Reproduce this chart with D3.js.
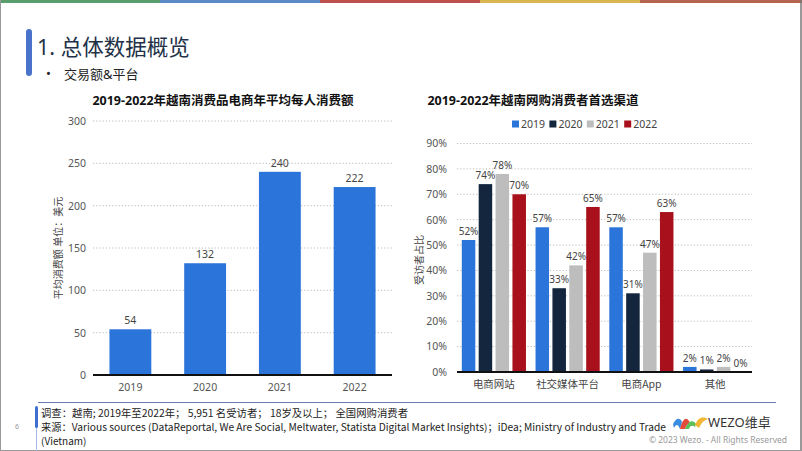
<!DOCTYPE html>
<html><head><meta charset="utf-8">
<script src="https://cdn.jsdelivr.net/npm/d3@7"></script>
<style>
html,body{margin:0;padding:0;background:#fff;}
svg{display:block;font-family:"Noto Sans","Noto Sans CJK SC",sans-serif;}
</style></head><body>
<svg id="c" width="802" height="451"></svg>
<script>
// ---------- data ----------
const years = ["2019","2020","2021","2022"];
const spendValues = [54,132,240,222];
const spendTicks = [0,50,100,150,200,250,300];

const channels = ["电商网站","社交媒体平台","电商App","其他"];
const series2019 = [52,57,57,2];
const series2020 = [74,33,31,1];
const series2021 = [78,42,47,2];
const series2022 = [70,65,63,0];
const pctTicks = [0,10,20,30,40,50,60,70,80,90];

const seriesColors = ["#2b74da","#13263d","#bdbdbd","#a8111b"];

const svg = d3.select("#c");

// ---------- frame ----------
const stripes = [["#5a9e6e",0,160],["#5b8ac6",160,320],["#c0504d",320,480],["#d9b64f",480,640],["#b5654e",640,802]];
svg.selectAll("rect.stripe").data(stripes).join("rect")
  .attr("x",d=>d[1]).attr("y",0).attr("width",d=>d[2]-d[1]).attr("height",3).attr("fill",d=>d[0]);
svg.append("line").attr("x1",801).attr("x2",801).attr("y1",0).attr("y2",451).attr("stroke","#777").attr("stroke-width",1.5);
svg.append("line").attr("x1",0.5).attr("x2",0.5).attr("y1",0).attr("y2",451).attr("stroke","#999").attr("stroke-width",1);
svg.append("line").attr("x1",0).attr("x2",802).attr("y1",450.5).attr("y2",450.5).attr("stroke","#999").attr("stroke-width",1);

// header
svg.append("rect").attr("x",26).attr("y",29).attr("width",6).attr("height",47).attr("rx",3).attr("fill","#4a74cc");
svg.append("text").attr("x",37).attr("y",55).attr("font-size",21.5).attr("fill","#223147").text("1. 总体数据概览");
svg.append("text").attr("x",46).attr("y",78).attr("font-size",13).attr("fill","#222").text("•");
svg.append("text").attr("x",64).attr("y",79).attr("font-size",13).attr("fill","#222").text("交易额&平台");

// ---------- left chart ----------
const L = {x0:93,x1:392,y0:375,y1:121};
const xL = d3.scaleBand().domain(years).range([L.x0,L.x1]).paddingInner(0.44).paddingOuter(0.22);
const yL = d3.scaleLinear().domain([0,300]).range([L.y0,L.y1]);
const gL = svg.append("g");
gL.append("text").attr("x",223).attr("y",105).attr("text-anchor","middle").attr("font-size",12.5).attr("font-weight","bold").attr("fill","#111")
  .text("2019-2022年越南消费品电商年平均每人消费额");
gL.selectAll("line.grid").data(spendTicks.filter(t=>t>0)).join("line")
  .attr("x1",L.x0).attr("x2",L.x1).attr("y1",d=>yL(d)).attr("y2",d=>yL(d))
  .attr("stroke","#bbb").attr("stroke-dasharray","1.2,2");
const axL = gL.append("g").attr("transform",`translate(${L.x0-7},0)`).call(d3.axisLeft(yL).tickValues(spendTicks).tickSize(0).tickPadding(0));
axL.select(".domain").remove();
axL.selectAll("text").attr("font-size",10.5).attr("fill","#555").attr("font-family","Noto Sans, sans-serif");
gL.selectAll("rect.bar").data(spendValues).join("rect")
  .attr("x",(d,i)=>xL(years[i])).attr("width",xL.bandwidth())
  .attr("y",d=>yL(d)).attr("height",d=>yL(0)-yL(d)).attr("fill","#2b74da");
gL.selectAll("text.val").data(spendValues).join("text")
  .attr("x",(d,i)=>xL(years[i])+xL.bandwidth()/2).attr("y",d=>yL(d)-5)
  .attr("text-anchor","middle").attr("font-size",10.5).attr("fill","#444").text(d=>d);
const bxL = gL.append("g").attr("transform",`translate(0,${L.y0})`).call(d3.axisBottom(xL).tickSize(0).tickPadding(9));
bxL.select(".domain").remove();
bxL.selectAll("text").attr("font-size",10.5).attr("fill","#555").attr("font-family","Noto Sans, sans-serif");
gL.append("line").attr("x1",L.x0).attr("x2",L.x1).attr("y1",L.y0).attr("y2",L.y0).attr("stroke","#111").attr("stroke-width",2);
gL.append("text").attr("transform","translate(62,248) rotate(-90)").attr("text-anchor","middle")
  .attr("font-size",10).attr("fill","#444").text("平均消费额 单位：美元");

// ---------- right chart ----------
const R = {x0:457,x1:752,y0:372,y1:143.5};
const xR = d3.scaleBand().domain(channels).range([R.x0,R.x1]).paddingInner(0.13).paddingOuter(0.065);
const xs = d3.scaleBand().domain(years).range([0,xR.bandwidth()]).paddingInner(0.2);
const yR = d3.scaleLinear().domain([0,90]).range([R.y0,R.y1]);
const gR = svg.append("g");
gR.append("text").attr("x",533).attr("y",105).attr("text-anchor","middle").attr("font-size",12.5).attr("font-weight","bold").attr("fill","#111")
  .text("2019-2022年越南网购消费者首选渠道");
// legend
const leg = gR.selectAll("g.leg").data(years).join("g").attr("transform",(d,i)=>`translate(${512+i*37.4},124)`);
leg.append("rect").attr("x",0).attr("y",-3.5).attr("width",7).attr("height",7).attr("fill",(d,i)=>seriesColors[i]);
leg.append("text").attr("x",9).attr("y",4).attr("font-size",10.5).attr("fill","#444").text(d=>d);

gR.selectAll("line.grid").data(pctTicks.filter(t=>t>0)).join("line")
  .attr("x1",R.x0).attr("x2",R.x1).attr("y1",d=>yR(d)).attr("y2",d=>yR(d))
  .attr("stroke","#bbb").attr("stroke-dasharray","1.2,2");
const axR = gR.append("g").attr("transform",`translate(${R.x0-10},0)`).call(d3.axisLeft(yR).tickValues(pctTicks).tickFormat(d=>d+"%").tickSize(0).tickPadding(0));
axR.select(".domain").remove();
axR.selectAll("text").attr("font-size",10.5).attr("fill","#555").attr("font-family","Noto Sans, sans-serif");

const allSeries = [series2019,series2020,series2021,series2022];
const flat = [];
channels.forEach((c,ci)=>years.forEach((y,yi)=>flat.push({c,y,yi,v:allSeries[yi][ci]})));
gR.selectAll("rect.bar").data(flat).join("rect")
  .attr("x",d=>xR(d.c)+xs(d.y)).attr("width",xs.bandwidth())
  .attr("y",d=>yR(d.v)).attr("height",d=>yR(0)-yR(d.v)).attr("fill",d=>seriesColors[d.yi]);
gR.selectAll("text.val").data(flat).join("text")
  .attr("x",d=>xR(d.c)+xs(d.y)+xs.bandwidth()/2).attr("y",d=>yR(d.v)-5)
  .attr("text-anchor","middle").attr("font-size",10).attr("fill","#444").text(d=>d.v+"%");
const bxR = gR.append("g").attr("transform",`translate(0,${R.y0})`).call(d3.axisBottom(xR).tickSize(0).tickPadding(9));
bxR.select(".domain").remove();
bxR.selectAll("text").attr("font-size",10.5).attr("fill","#444").attr("font-family","Noto Sans CJK SC, sans-serif");
gR.append("line").attr("x1",R.x0).attr("x2",R.x1).attr("y1",R.y0).attr("y2",R.y0).attr("stroke","#111").attr("stroke-width",2);
gR.append("text").attr("transform","translate(423,260) rotate(-90)").attr("text-anchor","middle")
  .attr("font-size",10).attr("fill","#444").text("受访者占比");

// ---------- footer ----------
svg.append("line").attr("x1",38).attr("x2",776).attr("y1",402.5).attr("y2",402.5).attr("stroke","#6c7bb4").attr("stroke-width",1);
svg.append("rect").attr("x",35).attr("y",406).attr("width",3).attr("height",22).attr("rx",1.5).attr("fill","#3e6fd0");
svg.append("line").attr("x1",36.5).attr("x2",36.5).attr("y1",428).attr("y2",451).attr("stroke","#a9bde8").attr("stroke-width",1);
svg.append("text").attr("x",15).attr("y",429).attr("font-size",7).attr("fill","#999").text("6");
const foot = svg.append("g").attr("font-family","Liberation Sans Narrow, Noto Sans CJK SC, sans-serif").attr("font-size",10).attr("fill","#222");
foot.append("text").attr("x",41).attr("y",417).attr("textLength",367).attr("lengthAdjust","spacingAndGlyphs")
  .text("调查：越南; 2019年至2022年；  5,951 名受访者；  18岁及以上；  全国网购消费者");
foot.append("text").attr("x",41).attr("y",431).attr("textLength",625).attr("lengthAdjust","spacingAndGlyphs")
  .text("来源：Various sources (DataReportal, We Are Social, Meltwater, Statista Digital Market Insights)；iDea; Ministry of Industry and Trade");
foot.append("text").attr("x",41).attr("y",445).text("(Vietnam)");

// logo
const logo = svg.append("g").attr("transform","translate(673,414)");
logo.append("path").attr("d","M0,10 C3,4 7,3 9,8 L7,15 C5,10 3,10 1,14 Z").attr("fill","#3a8de0");
logo.append("path").attr("d","M7,15 C9,6 13,2 16,7 L19,12 C17,9 14,9 12,15 Z").attr("fill","#e34b3c");
logo.append("path").attr("d","M12,15 C15,7 20,5 23,10 L22,13 C20,11 17,11 16,15 Z").attr("fill","#5cbf5a");
logo.append("path").attr("d","M22,11 C25,3 30,2 35,5 C31,6 28,9 26,14 Z").attr("fill","#f2b632");
svg.append("text").attr("x",708).attr("y",427).attr("font-size",13).attr("fill","#333").text("WEZO维卓");
svg.append("text").attr("x",787).attr("y",443).attr("text-anchor","end").attr("font-size",8.5).attr("fill","#999").text("© 2023 Wezo. - All Rights Reserved");
</script>
</body></html>
